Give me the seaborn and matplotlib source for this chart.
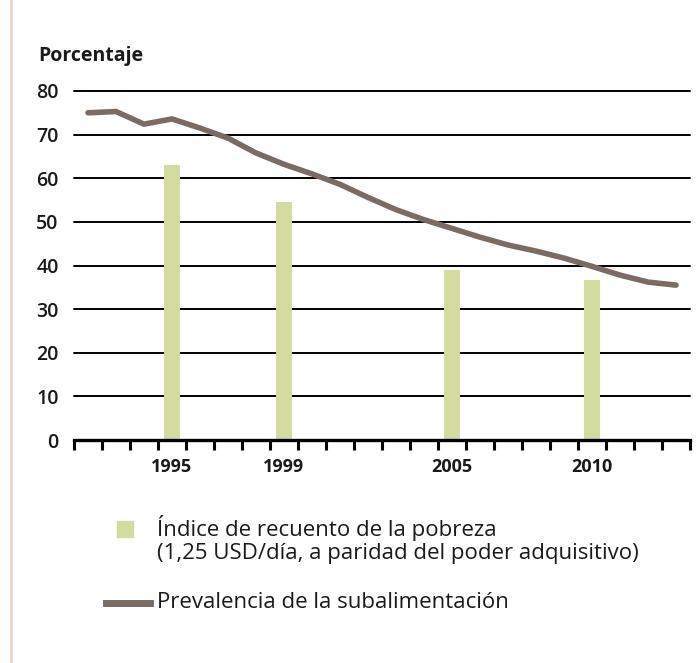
import numpy as np
import pandas as pd
import matplotlib
matplotlib.use("Agg")
import matplotlib.pyplot as plt
import seaborn as sns
from matplotlib.patches import Rectangle
from matplotlib.lines import Line2D

# poverty headcount bars
bar_years = [1995, 1999, 2005, 2010]
bar_values = [63.1, 54.6, 38.9, 36.7]

# undernourishment prevalence line
line_years = list(range(1992, 2014))
line_values = [75.0, 75.3, 72.4, 73.6, 71.5, 69.2, 65.8, 63.2, 61.0, 58.6,
               55.6, 52.8, 50.5, 48.5, 46.5, 44.7, 43.3, 41.7, 39.8, 37.8,
               36.2, 35.5]

year_labels = ["1995", "1999", "2005", "2010"]
y_ticks = [0, 10, 20, 30, 40, 50, 60, 70, 80]

sns.set_style("white")
plt.rcParams['font.family'] = ['Open Sans', 'DejaVu Sans']

bar_color = "#d3dc9e"
line_color = "#7b6b62"
text_color = "#1a1a1a"

fig = plt.figure(figsize=(6.97, 6.63), dpi=100)
ax = fig.add_axes([74 / 697, 1 - 440 / 663, (690 - 74) / 697, (440 - 91) / 663])

bars = pd.DataFrame({"year": bar_years, "value": bar_values})
sns.barplot(data=bars, x="year", y="value", native_scale=True, width=0.15,
            color=bar_color, saturation=1, ax=ax, zorder=3)
for p in ax.patches:
    p.set_edgecolor("none")

line = pd.DataFrame({"year": line_years, "value": line_values})
sns.lineplot(data=line, x="year", y="value", color=line_color, linewidth=4,
             ax=ax, zorder=4, solid_capstyle="round")

ax.set_xlim(1991.5, 2013.5)
ax.set_ylim(0, 80)
ax.set_xlabel("")
ax.set_ylabel("")

for v in y_ticks[1:]:
    ax.axhline(v, color="black", lw=1.4, zorder=1, clip_on=False)

for s in ["top", "right", "left"]:
    ax.spines[s].set_visible(False)
ax.spines["bottom"].set_linewidth(2.4)
ax.spines["bottom"].set_color("black")
ax.spines["bottom"].set_zorder(5)

ax.set_yticks(y_ticks)
ax.set_yticklabels([str(v) for v in y_ticks], fontsize=14, color=text_color,
                   fontweight="semibold")
ax.tick_params(axis="y", length=0, pad=11)

ax.set_xticks(bar_years)
ax.set_xticklabels(year_labels, fontsize=13, fontweight="bold", color=text_color)
ax.set_xticks(np.arange(1991.5, 2014, 1.0), minor=True)
ax.tick_params(axis="x", which="major", bottom=True, length=0, pad=13)
ax.tick_params(axis="x", which="minor", bottom=True, length=7, width=2.2,
               color="black", direction="out")

fig.text(38 / 697, 1 - 56 / 663, "Porcentaje", fontsize=14, fontweight="bold",
         color=text_color, va="center", ha="left")

# left border line of the panel
fig.add_artist(Line2D([11 / 697, 11 / 697], [0, 1], color="#f2d3c4", lw=2))

# legend
fig.add_artist(Rectangle((117 / 697, 1 - 537 / 663), 16 / 697, 16 / 663,
                         color=bar_color, transform=fig.transFigure))
fig.text(157 / 697, 1 - 528 / 663, "Índice de recuento de la pobreza",
         fontsize=16, color=text_color, va="center", ha="left")
fig.text(157 / 697, 1 - 554 / 663, "(1,25 USD/día, a paridad del poder adquisitivo)",
         fontsize=16, color=text_color, va="center", ha="left")
fig.add_artist(Line2D([106 / 697, 150 / 697], [1 - 603 / 663, 1 - 603 / 663],
                      color=line_color, lw=5, solid_capstyle="projecting"))
fig.text(157 / 697, 1 - 603 / 663, "Prevalencia de la subalimentación",
         fontsize=16, color=text_color, va="center", ha="left")

fig.savefig("out.png", dpi=100)
